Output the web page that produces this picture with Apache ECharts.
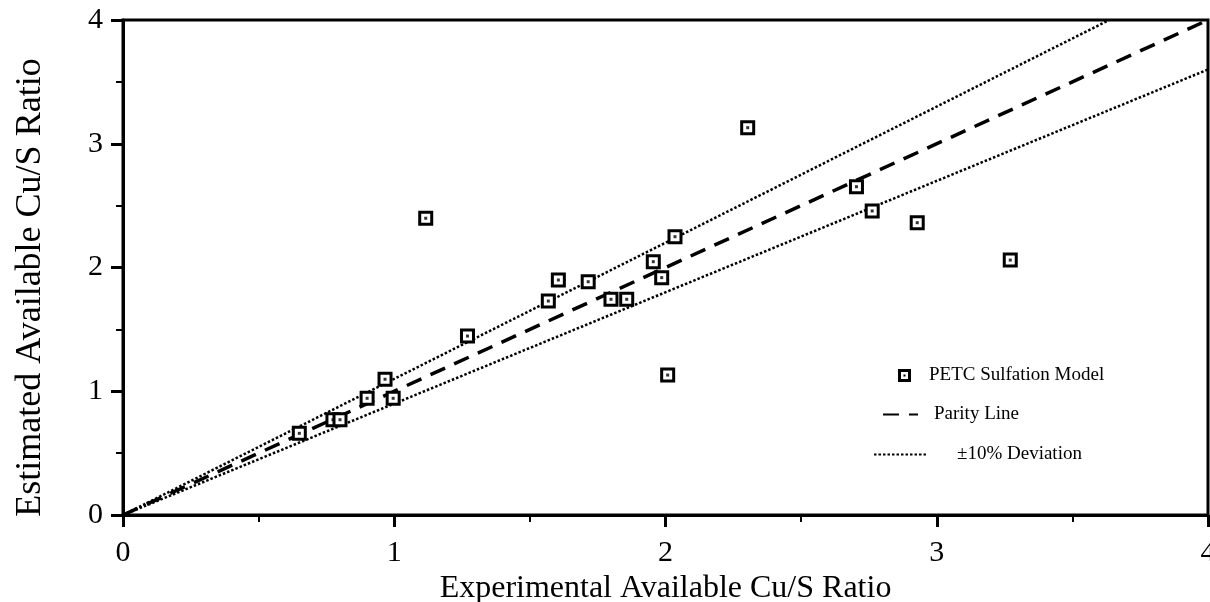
<!DOCTYPE html>
<html>
<head>
<meta charset="utf-8">
<script src="https://cdn.jsdelivr.net/npm/echarts@6/dist/echarts.min.js"></script>
<style>
html,body{margin:0;padding:0;background:#fff;}
#chart{width:1210px;height:602px;}
</style>
</head>
<body>
<div id="chart"></div>
<script>
// Data
const expCuS = [0.65, 0.774, 0.80, 0.90, 0.966, 0.996, 1.116, 1.27, 1.568, 1.605, 1.715, 1.799, 1.857, 1.955, 1.986, 2.008, 2.035, 2.303, 2.704, 2.762, 2.928, 3.271];
const estCuS = [0.66, 0.77, 0.77, 0.943, 1.097, 0.943, 2.398, 1.446, 1.729, 1.899, 1.885, 1.743, 1.743, 2.047, 1.918, 1.131, 2.249, 3.13, 2.653, 2.457, 2.362, 2.06];
const parityLine = [[0, 0], [4, 4]];
const upperDev = [[0, 0], [3.636, 4]];
const lowerDev = [[0, 0], [4, 3.6]];
const tickLabels = ['0', '1', '2', '3', '4'];

const points = expCuS.map((x, i) => [x, estCuS[i]]);
const font = 'Liberation Serif, Times New Roman, serif';

const chart = echarts.init(document.getElementById('chart'), null, {renderer: 'canvas'});

function axisCommon(name, nameGap, nameSize) {
  return {
    type: 'value', min: 0, max: 4, interval: 1,
    name: name, nameLocation: 'middle', nameGap: nameGap,
    nameTextStyle: {fontFamily: font, fontSize: nameSize, color: '#000'},
    axisLine: {show: true, onZero: false, lineStyle: {color: '#000', width: 3}},
    axisTick: {show: true, inside: false, length: 12, lineStyle: {color: '#000', width: 3}},
    minorTick: {show: true, splitNumber: 2, length: 7, lineStyle: {color: '#000', width: 2}},
    splitLine: {show: false},
    axisLabel: {fontFamily: font, fontSize: 30, color: '#000',
      formatter: v => tickLabels[Math.round(v)] }
  };
}

const xAxis = axisCommon('Experimental Available Cu/S Ratio', 50, 32);
xAxis.axisLabel.margin = 23;
const yAxis = axisCommon('Estimated Available Cu/S Ratio', 74, 36);
yAxis.axisLabel.margin = 20;
yAxis.nameTextStyle.padding = [0, 40, 0, 0];

const legendText = {fontFamily: font, fontSize: 19, color: '#000'};

chart.setOption({
  animation: false,
  backgroundColor: '#fff',
  grid: {left: 123, right: 2, top: 20, bottom: 87, containLabel: false, outerBoundsMode: 'none',
    show: true, borderColor: '#000', borderWidth: 3, backgroundColor: 'transparent'},
  xAxis: xAxis,
  yAxis: yAxis,
  legend: [
    {
      orient: 'vertical', left: 893, top: 361, itemWidth: 13, itemHeight: 13,
      textStyle: Object.assign({padding: [0, 0, 0, 13]}, legendText),
      data: [{name: 'PETC Sulfation Model',
        icon: 'path://M0,0H13V13H0Z M3,3V10H10V3Z M5.5,5.5H7.5V7.5H5.5Z',
        itemStyle: {color: '#000', borderWidth: 0}}]
    },
    {
      orient: 'vertical', left: 877, top: 400, itemWidth: 35, itemHeight: 14,
      textStyle: Object.assign({padding: [0, 0, 0, 11]}, legendText),
      data: [{name: 'Parity Line', itemStyle: {opacity: 0}}]
    },
    {
      orient: 'vertical', left: 868, top: 440, itemWidth: 54, itemHeight: 14,
      textStyle: Object.assign({padding: [0, 0, 0, 24]}, legendText),
      data: [{name: '±10% Deviation', itemStyle: {opacity: 0}}]
    }
  ],
  series: [
    {
      name: 'Parity Line', type: 'line', data: parityLine, symbol: 'none',
      itemStyle: {color: '#000'},
      lineStyle: {color: '#000', width: 3.5, type: [16, 10]}, z: 2
    },
    {
      name: '±10% Deviation', type: 'line', data: upperDev, symbol: 'none',
      itemStyle: {color: '#000'},
      lineStyle: {color: '#000', width: 2.5, type: [2.5, 2]}, z: 2
    },
    {
      name: '±10% Deviation', type: 'line', data: lowerDev, symbol: 'none',
      itemStyle: {color: '#000'},
      lineStyle: {color: '#000', width: 2.5, type: [2.5, 2]}, z: 2
    },
    {
      name: 'PETC Sulfation Model', type: 'scatter', data: points,
      symbol: 'rect', symbolSize: 12,
      itemStyle: {color: '#fff', borderColor: '#000', borderWidth: 3, opacity: 1}, z: 3
    },
    {
      name: 'centerDot', type: 'scatter', data: points, silent: true,
      symbol: 'rect', symbolSize: 3,
      itemStyle: {color: '#000'}, z: 4
    }
  ]
});
</script>
</body>
</html>
